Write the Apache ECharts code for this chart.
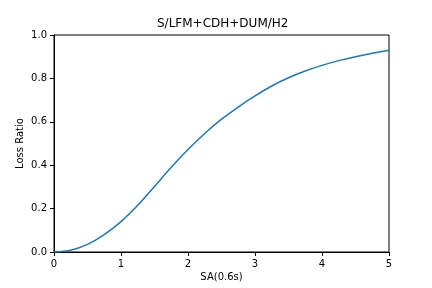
<!DOCTYPE html>
<html>
<head>
<meta charset="utf-8">
<script src="https://cdn.jsdelivr.net/npm/echarts@6/dist/echarts.min.js"></script>
<style>html,body{margin:0;padding:0;background:#fff;}#c{width:432px;height:288px;}</style>
</head>
<body>
<div id="c"></div>
<script>
const titleText = "S/LFM+CDH+DUM/H2";
const xName = "SA(0.6s)";
const yName = "Loss Ratio";
const saValues = [0, 0.25, 0.5, 0.75, 1.0, 1.25, 1.5, 1.75, 2.0, 2.25, 2.5, 2.75, 3.0, 3.25, 3.5, 3.75, 4.0, 4.25, 4.5, 4.75, 5.0];
const lossRatio = [0, 0.008, 0.035, 0.08, 0.14, 0.215, 0.302, 0.39, 0.472, 0.546, 0.612, 0.668, 0.719, 0.765, 0.803, 0.834, 0.86, 0.882, 0.9, 0.916, 0.93];
const xTicks = [0, 1, 2, 3, 4, 5];
const yTicks = [0, 0.2, 0.4, 0.6, 0.8, 1.0];

const chart = echarts.init(document.getElementById('c'), null, {renderer: 'canvas'});
const font = 'DejaVu Sans';
chart.setOption({
  animation: false,
  backgroundColor: '#fff',
  title: {
    text: titleText, left: 157, top: 18, padding: 0,
    textStyle: {fontFamily: font, fontSize: 12, fontWeight: 'normal', color: '#000'}
  },
  grid: {left: 54, right: 43, top: 35, bottom: 36, show: true, borderColor: '#000', borderWidth: 1, containLabel: false},
  xAxis: {
    type: 'value', min: xTicks[0], max: xTicks[xTicks.length - 1], interval: 1,
    name: xName, nameLocation: 'middle', nameGap: 20, nameMoveOverlap: false,
    nameTextStyle: {fontFamily: font, fontSize: 10, color: '#000'},
    axisLine: {show: true, onZero: false, lineStyle: {color: '#000', width: 1}},
    axisTick: {show: true, inside: false, length: 4, lineStyle: {color: '#000'}},
    axisLabel: {fontFamily: font, fontSize: 10, color: '#000', margin: 7},
    splitLine: {show: false}
  },
  yAxis: {
    type: 'value', min: yTicks[0], max: yTicks[yTicks.length - 1], interval: 0.2,
    name: yName, nameLocation: 'middle', nameGap: 29, nameMoveOverlap: false,
    nameTextStyle: {fontFamily: font, fontSize: 10, color: '#000'},
    axisLine: {show: true, onZero: false, lineStyle: {color: '#000', width: 1}},
    axisTick: {show: true, inside: false, length: 4, lineStyle: {color: '#000'}},
    axisLabel: {fontFamily: font, fontSize: 10, color: '#000', margin: 7, formatter: v => v.toFixed(1)},
    splitLine: {show: false}
  },
  series: [{
    type: 'line',
    data: saValues.map((x, i) => [x, lossRatio[i]]),
    showSymbol: false, smooth: 0.3,
    lineStyle: {color: '#1f77b4', width: 1.5},
    clip: true
  }]
});
</script>
</body>
</html>
